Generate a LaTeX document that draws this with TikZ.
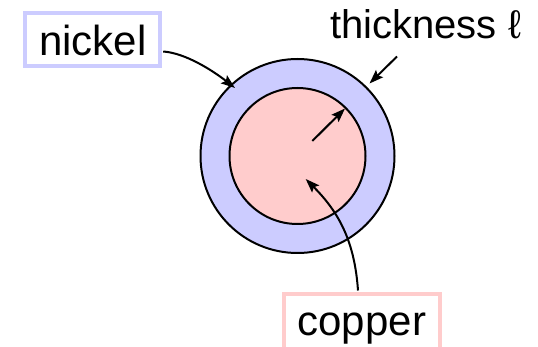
\documentclass[tikz,border=0pt]{standalone}
\usepackage{fontspec}
\setmainfont{Liberation Sans}
\usetikzlibrary{arrows.meta}
\definecolor{nickelfill}{RGB}{204,204,255}
\definecolor{copperfill}{RGB}{255,204,204}
\begin{document}
\begin{tikzpicture}[x=1pt,y=-1pt,
  labelbox/.style={draw=#1, line width=4pt, fill=white, minimum width=135pt,
    minimum height=53.4pt, inner sep=0pt, font=\fontsize{42}{50}\selectfont},
  pointer/.style={line width=2pt, -{Stealth[length=14pt,width=10pt,inset=2.5pt]}},
  ring/.style={draw=black, line width=2pt}]
\useasboundingbox (0,0) rectangle (538,347);
% layered wire cross-section
\coordinate (c) at (297.5,156);
\fill[nickelfill] (c) circle[radius=97pt];
\draw[ring] (c) circle[radius=97pt];
\fill[copperfill] (c) circle[radius=68pt];
\draw[ring] (c) circle[radius=68pt];
% labels
\node[labelbox=nickelfill, text height=33pt, text depth=0pt] (nickel) at (92.7,39.5) {nickel};
\node[labelbox=copperfill, minimum width=156pt, minimum height=60pt,
  text height=21pt, text depth=0pt] (copper) at (361.8,324.5) {copper};
\node[font=\fontsize{40}{48}\selectfont, anchor=base west, inner sep=0pt] (thick) at (330,39) {thickness ℓ};
% points on the rings
\coordinate (nickelpt) at (235,88);
\coordinate (innerpt) at (345,108.5);
\coordinate (rstart) at (312.3,141);
\coordinate (tstart) at (397,56.5);
\coordinate (tend) at (369.5,83.5);
\coordinate (coppt) at (305.7,179);
% connectors (unitless offsets follow the flipped y axis)
\draw[pointer] (nickel.east) ++(1,12) .. controls (185,53) and (212,70) .. (nickelpt);
\draw[pointer] (tstart) -- (tend);
\draw[pointer] (rstart) -- (innerpt);
\draw[pointer] (copper.north) ++(-3.8,-2) to[out=94,in=-45] (coppt);
\end{tikzpicture}
\end{document}
